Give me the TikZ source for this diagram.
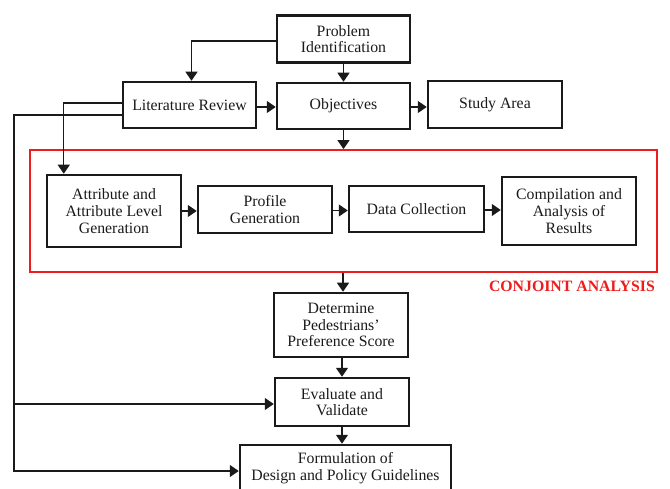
\documentclass[tikz,border=0pt]{standalone}
\usepackage{fontspec}
\setmainfont{Liberation Serif}
\usetikzlibrary{arrows.meta,calc}
\definecolor{ink}{HTML}{1A1A1A}
\definecolor{frame}{HTML}{EE1C1C}
\begin{document}
\begin{tikzpicture}[x=1pt,y=-1pt,
  box/.style={draw=ink,line width=2.5pt,align=center,inner sep=0pt,
    font=\fontsize{15.8}{16.6}\selectfont,text=ink},
  conn/.style={draw=ink,line width=1.3pt,-{Triangle[length=9pt,width=12pt]}},
  redframe/.style={draw=frame,line width=1.8pt,inner sep=0pt},
  redlabel/.style={text=frame,font=\fontsize{15.8}{16.6}\selectfont\bfseries,inner sep=0pt}]
\useasboundingbox (0,0) rectangle (670,489);
% containers
\node[redframe,minimum width=627,minimum height=122] (ca) at (343.5,211) {};
\node[redlabel,anchor=east] (cal) at (655,286) {CONJOINT ANALYSIS};
% boxes
\node[box,minimum width=133,minimum height=47] (prob) at (343.5,39) {Problem\\Identification};
\node[box,minimum width=133,minimum height=46] (lit) at (189.5,105) {Literature Review};
\node[box,minimum width=133,minimum height=46] (obj) at (343.5,106) {Objectives};
\node[box,minimum width=134,minimum height=47] (study) at (495,104.5) {Study Area};
\node[box,minimum width=134,minimum height=72] (attr) at (114,211) {Attribute and\\Attribute Level\\Generation};
\node[box,minimum width=134,minimum height=47] (prof) at (265,209.5) {Profile\\Generation};
\node[box,minimum width=135,minimum height=46] (data) at (416.5,209) {Data Collection};
\node[box,minimum width=134,minimum height=68] (comp) at (569,211) {Compilation and\\Analysis of\\Results};
\node[box,minimum width=134,minimum height=64] (det) at (341,325) {Determine\\Pedestrians'\\Preference Score};
\node[box,minimum width=134,minimum height=48] (eval) at (342,402) {Evaluate and\\Validate};
\node[box,minimum width=211,minimum height=46] (form) at (345.5,468) {Formulation of\\Design and Policy Guidelines};
\coordinate (spine) at (14,115);
\coordinate (evalin) at ([yshift=-2pt]eval.west);
% connectors
\draw[conn] ([yshift=-2pt]prob.west) -| ([xshift=2pt]lit.north);
\draw[conn] (prob.south) -- (prob.south |- obj.north);
\draw[conn] ([yshift=-2pt]lit.east) -- ([yshift=-2pt]lit.east -| obj.west);
\draw[conn] ([yshift=-1pt]obj.east) -- ([yshift=-1pt]obj.east -| study.west);
\draw[conn] (obj.south) -- (obj.south |- ca.north);
\draw[conn] ([yshift=2pt]lit.west) -| ([xshift=18pt]attr.north west);
\draw[conn] ([yshift=-10pt]lit.west) -- (spine) |- ([yshift=-3pt]form.west);
\draw[conn] (spine |- evalin) -- (evalin);
\draw[conn] (attr.east) -- (attr.east -| prof.west);
\draw[conn] ([yshift=-1pt]prof.east) -- ([yshift=-1pt]prof.east -| data.west);
\draw[conn] ([yshift=-1pt]data.east) -- ([yshift=-1pt]data.east -| comp.west);
\draw[conn] ([xshift=2pt]det.north |- ca.south) -- ([xshift=2pt]det.north);
\draw[conn] ([xshift=1pt]det.south) -- ([xshift=1pt]det.south |- eval.north);
\draw[conn] (eval.south) -- (eval.south |- form.north);
\end{tikzpicture}
\end{document}
